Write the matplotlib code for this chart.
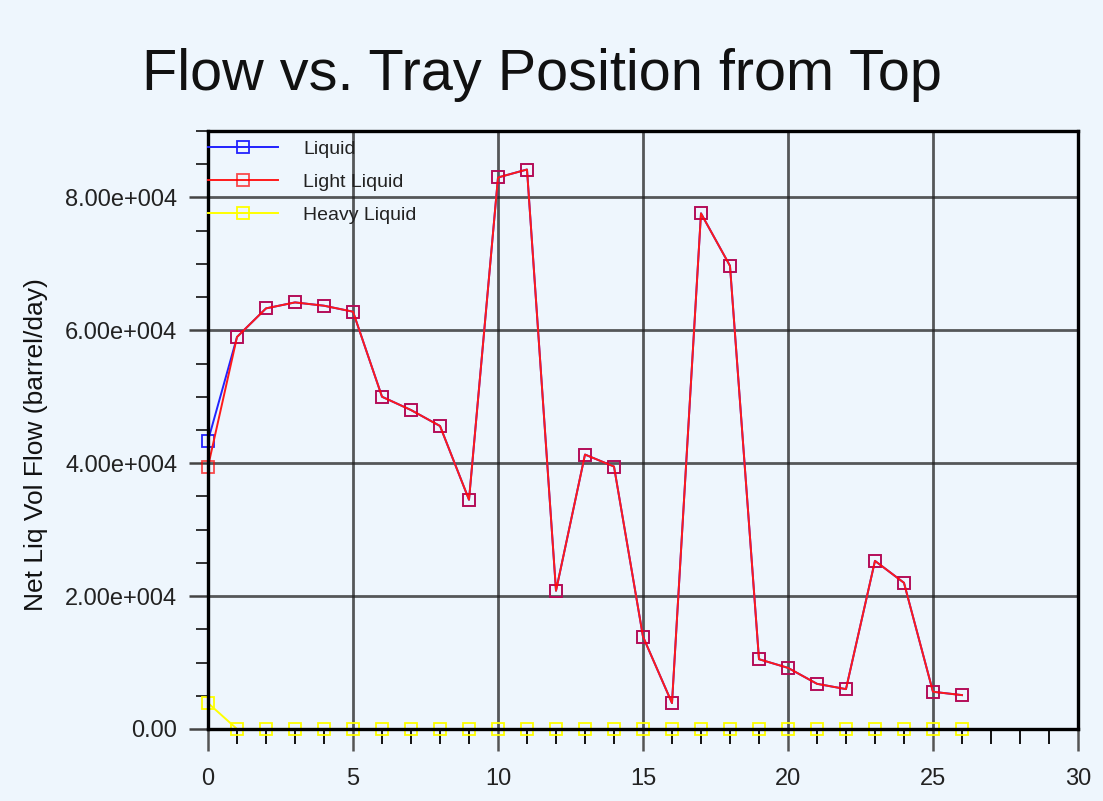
#!/usr/bin/env python3

import matplotlib
matplotlib.use("Agg")
import matplotlib.pyplot as plt
from matplotlib.ticker import MultipleLocator, FuncFormatter

plt.rcParams['font.family'] = ['Liberation Sans', 'DejaVu Sans']

# tray position from top
trays = list(range(27))

liquid = [43400, 59000, 63300, 64200, 63700, 62800, 50000, 48000, 45600, 34500,
          83000, 84200, 20800, 41300, 39500, 13900, 3900, 77600, 69700, 10500,
          9200, 6800, 6000, 25300, 22000, 5600, 5100]
light_liquid = [39500, 59000, 63300, 64200, 63700, 62800, 50000, 48000, 45600, 34500,
                83000, 84200, 20800, 41300, 39500, 13900, 3900, 77600, 69700, 10500,
                9200, 6800, 6000, 25300, 22000, 5600, 5100]
heavy_liquid = [3900] + [0] * 26

series_names = ["Liquid", "Light Liquid", "Heavy Liquid"]

BG = '#eef6fd'


def sci_fmt(v, pos):
    if v == 0:
        return "0.00"
    mant, exp = f"{v:.2e}".split("e")
    return f"{mant}e{int(exp):+04d}"


def draw_graph():
    fig = plt.figure(figsize=(11.03, 8.01), dpi=100, facecolor=BG)
    ax = fig.add_axes([0.1886, 0.0899, 0.7887, 0.7466], facecolor=BG)

    ax.plot(trays, liquid, color='#2222ff', lw=1.4, marker='s', ms=9,
            mfc='none', mec='#2222ff', mew=1.3, label=series_names[0], clip_on=False)
    ax.plot(trays, light_liquid, color='#ff1a1a', lw=1.4, marker='s', ms=9,
            mfc='none', mec=(1, 0, 0, 0.7), mew=1.3, label=series_names[1], clip_on=False)
    ax.plot(trays, heavy_liquid, color='#ffff00', lw=1.4, marker='s', ms=9,
            mfc='none', mec='#ffff00', mew=1.3, label=series_names[2], clip_on=False)

    ax.set_xlim(0, 30)
    ax.set_ylim(0, 90000)

    ax.xaxis.set_major_locator(MultipleLocator(5))
    ax.xaxis.set_minor_locator(MultipleLocator(1))
    ax.yaxis.set_major_locator(MultipleLocator(20000))
    ax.yaxis.set_minor_locator(MultipleLocator(5000))
    ax.yaxis.set_major_formatter(FuncFormatter(sci_fmt))

    ax.grid(True, which='major', color='#222222', lw=2.0, alpha=0.75)
    ax.set_axisbelow(True)

    for s in ax.spines.values():
        s.set_linewidth(2.4)
        s.set_color('black')

    ax.tick_params(axis='x', which='major', direction='out', length=16, width=1.8,
                   color='#555555', labelsize=17, pad=12, labelcolor='#222222')
    ax.tick_params(axis='x', which='minor', direction='out', length=11, width=1.3,
                   color='black')
    ax.tick_params(axis='y', which='major', direction='out', length=14, width=1.8,
                   color='#444444', labelsize=17, pad=8, labelcolor='#222222')
    ax.tick_params(axis='y', which='minor', direction='out', length=9, width=1.3,
                   color='#222222')

    leg = ax.legend(loc='upper left', bbox_to_anchor=(0, 0.985), frameon=False,
                    fontsize=14, borderaxespad=0, borderpad=0, handlelength=3.6,
                    handletextpad=1.3, labelspacing=0.8)
    for t in leg.get_texts():
        t.set_color('#222222')

    fig.text(0.491, 0.906, "Flow vs. Tray Position from Top", ha='center',
             va='center', fontsize=41.5, color='#111111')
    fig.text(0.033, 0.445, "Net Liq Vol Flow (barrel/day)", ha='center',
             va='center', rotation=90, fontsize=19, color='#111111')

    fig.savefig("out.png", dpi=100, facecolor=BG)


if __name__ == "__main__":
    draw_graph()
